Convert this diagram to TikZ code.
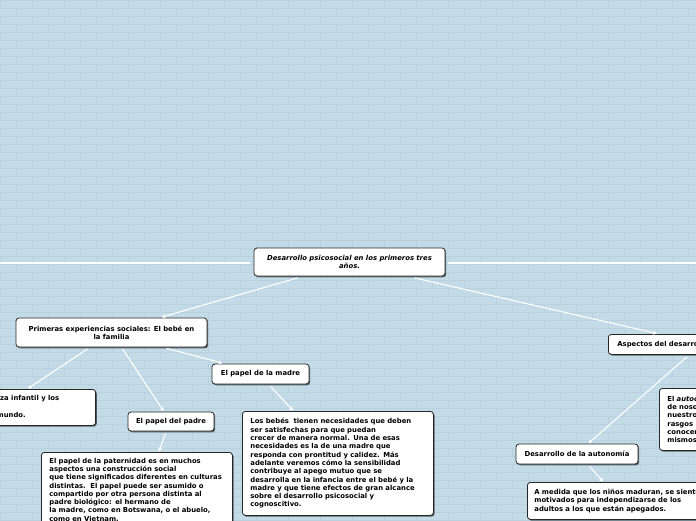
\documentclass[tikz,border=0pt]{standalone}
\usepackage{fontspec}
\setmainfont{DejaVu Sans}
\usetikzlibrary{shadows,calc,arrows.meta}
\definecolor{bg}{HTML}{C2DBE6}
\definecolor{brick}{HTML}{B8D1DD}
\tikzset{
 box/.style={draw=black!85, line width=0.8pt, fill=white, rounded corners=3pt,
   drop shadow={shadow xshift=1.2pt, shadow yshift=-1.3pt, fill=black, opacity=0.55},
   font=\fontsize{6.85}{8.3}\selectfont\bfseries, inner sep=0pt},
 conn/.style={draw=white, line width=1.1pt, -{Stealth[length=4pt,width=4.5pt]}},
 plainline/.style={draw=white, line width=1.3pt},
}
\begin{document}
\begin{tikzpicture}[x=1pt,y=-1pt]
\fill[bg] (0,0) rectangle (696,520);
\useasboundingbox (0,0) rectangle (696,520);
% faint brick pattern
\foreach \r in {0,...,65} {
  \draw[brick, line width=0.35pt] (0,\r*8) -- (696,\r*8);
  \pgfmathsetmacro\off{mod(\r,2)*16}
  \foreach \c in {0,...,22} {
    \draw[brick, line width=0.35pt] (\off+\c*32,\r*8) -- ++(0,8);
  }
}

% nodes
\node[box, minimum width=191pt, minimum height=28pt, align=center, font=\fontsize{6.85}{8.3}\selectfont\bfseries\itshape] (root) at (349.5,262)
  {Desarrollo psicosocial en los primeros tres\\años.};
\node[box, minimum width=191pt, minimum height=29pt, align=center] (primeras) at (111.5,332.5)
  {Primeras experiencias sociales: El bebé en\\la familia};
\node[box, minimum width=150pt, minimum height=36pt, anchor=north east] (confianza) at (96,389) {};
\node[font=\fontsize{6.85}{8.3}\selectfont\bfseries, inner sep=0pt, anchor=north west, align=left] (confianzatxt) at (0,395)
  {za infantil y los\\[8.3pt]\hspace*{-3.5pt}mundo.};
\node[box, minimum width=86pt, minimum height=19pt] (padre) at (171,421.5) {El papel del padre};
\node[box, minimum width=97pt, minimum height=20pt] (madre) at (260.5,374) {El papel de la madre};
\node[box, anchor=north west, text width=175pt, inner xsep=8pt, inner ysep=5.5pt, align=left] (padretxt) at (41,452)
  {El papel de la paternidad es en muchos\\aspectos una construcción social\\que tiene significados diferentes en culturas\\distintas.\ \ El papel puede ser asumido o\\compartido por otra persona distinta al\\padre biológico: el hermano de\\la madre, como en Botswana, o el abuelo,\\como en Vietnam.\\[20pt]};
\node[box, anchor=north west, text width=175pt, inner xsep=8pt, minimum height=104pt, align=left] (madretxt) at (242,411)
  {Los bebés\ \ tienen necesidades que deben\\ser satisfechas para que puedan\\crecer de manera normal. Una de esas\\necesidades es la de una madre que\\responda con prontitud y calidez. Más\\adelante veremos cómo la sensibilidad\\contribuye al apego mutuo que se\\desarrolla en la infancia entre el bebé y la\\madre y que tiene efectos de gran alcance\\sobre el desarrollo psicosocial y\\cognoscitivo.};
\node[box, anchor=north west, minimum height=20pt, text width=150pt, inner xsep=9pt, align=left] (aspectos) at (608,334)
  {Aspectos del desarrollo};
\node[box, anchor=north west, minimum height=62pt, text width=100pt, inner xsep=8pt, align=left] (autoconcepto) at (659,388)
  {El \textit{autoconcepto}\\de nosotros\\nuestros\\rasgos\\conocemos\\mismos.};
\node[box, minimum width=122pt, minimum height=20pt] (autonomia) at (577,454) {Desarrollo de la autonomía};
\node[box, anchor=north west, minimum height=37pt, text width=200pt, inner xsep=7pt, align=left] (amedida) at (527,482)
  {A medida que los niños maduran, se sienten\\motivados para independizarse de los\\adultos a los que están apegados.};

% off-page ends
\coordinate (offleft) at (-40,263);
\coordinate (offright) at (740,263);

% connectors
\draw[plainline] ($(root.west)+(-4,1)$) -- (offleft);
\draw[plainline] ($(root.east)+(3,1)$) -- (offright);
\draw[conn] ($(root.south west)+(44,1.5)$) -- ($(primeras.north west)+(146,-0.5)$);
\draw[conn] ($(root.south west)+(161,1.5)$) -- ($(aspectos.north west)+(49,-0.5)$);
\draw[conn] ($(primeras.south west)+(72,1.5)$) -- ($(confianza.north east)+(-68,-0.5)$);
\draw[conn] ($(primeras.south west)+(107,1.5)$) -- ($(padre.north west)+(36,-0.5)$);
\draw[conn] ($(primeras.south west)+(151,1)$) -- ($(madre.north west)+(11,-0.5)$);
\draw[conn] ($(madre.south west)+(59,2)$) -- ($(madretxt.north west)+(51,-0.5)$);
\draw[conn] ($(padre.south west)+(38,2)$) -- ($(padretxt.north west)+(118,-0.5)$);
\draw[conn] ($(aspectos.south west)+(79,2)$) -- ($(autonomia.north west)+(73,-0.5)$);
\draw[conn] ($(autonomia.south west)+(74,2)$) -- ($(amedida.north west)+(76,-0.5)$);
\end{tikzpicture}
\end{document}
